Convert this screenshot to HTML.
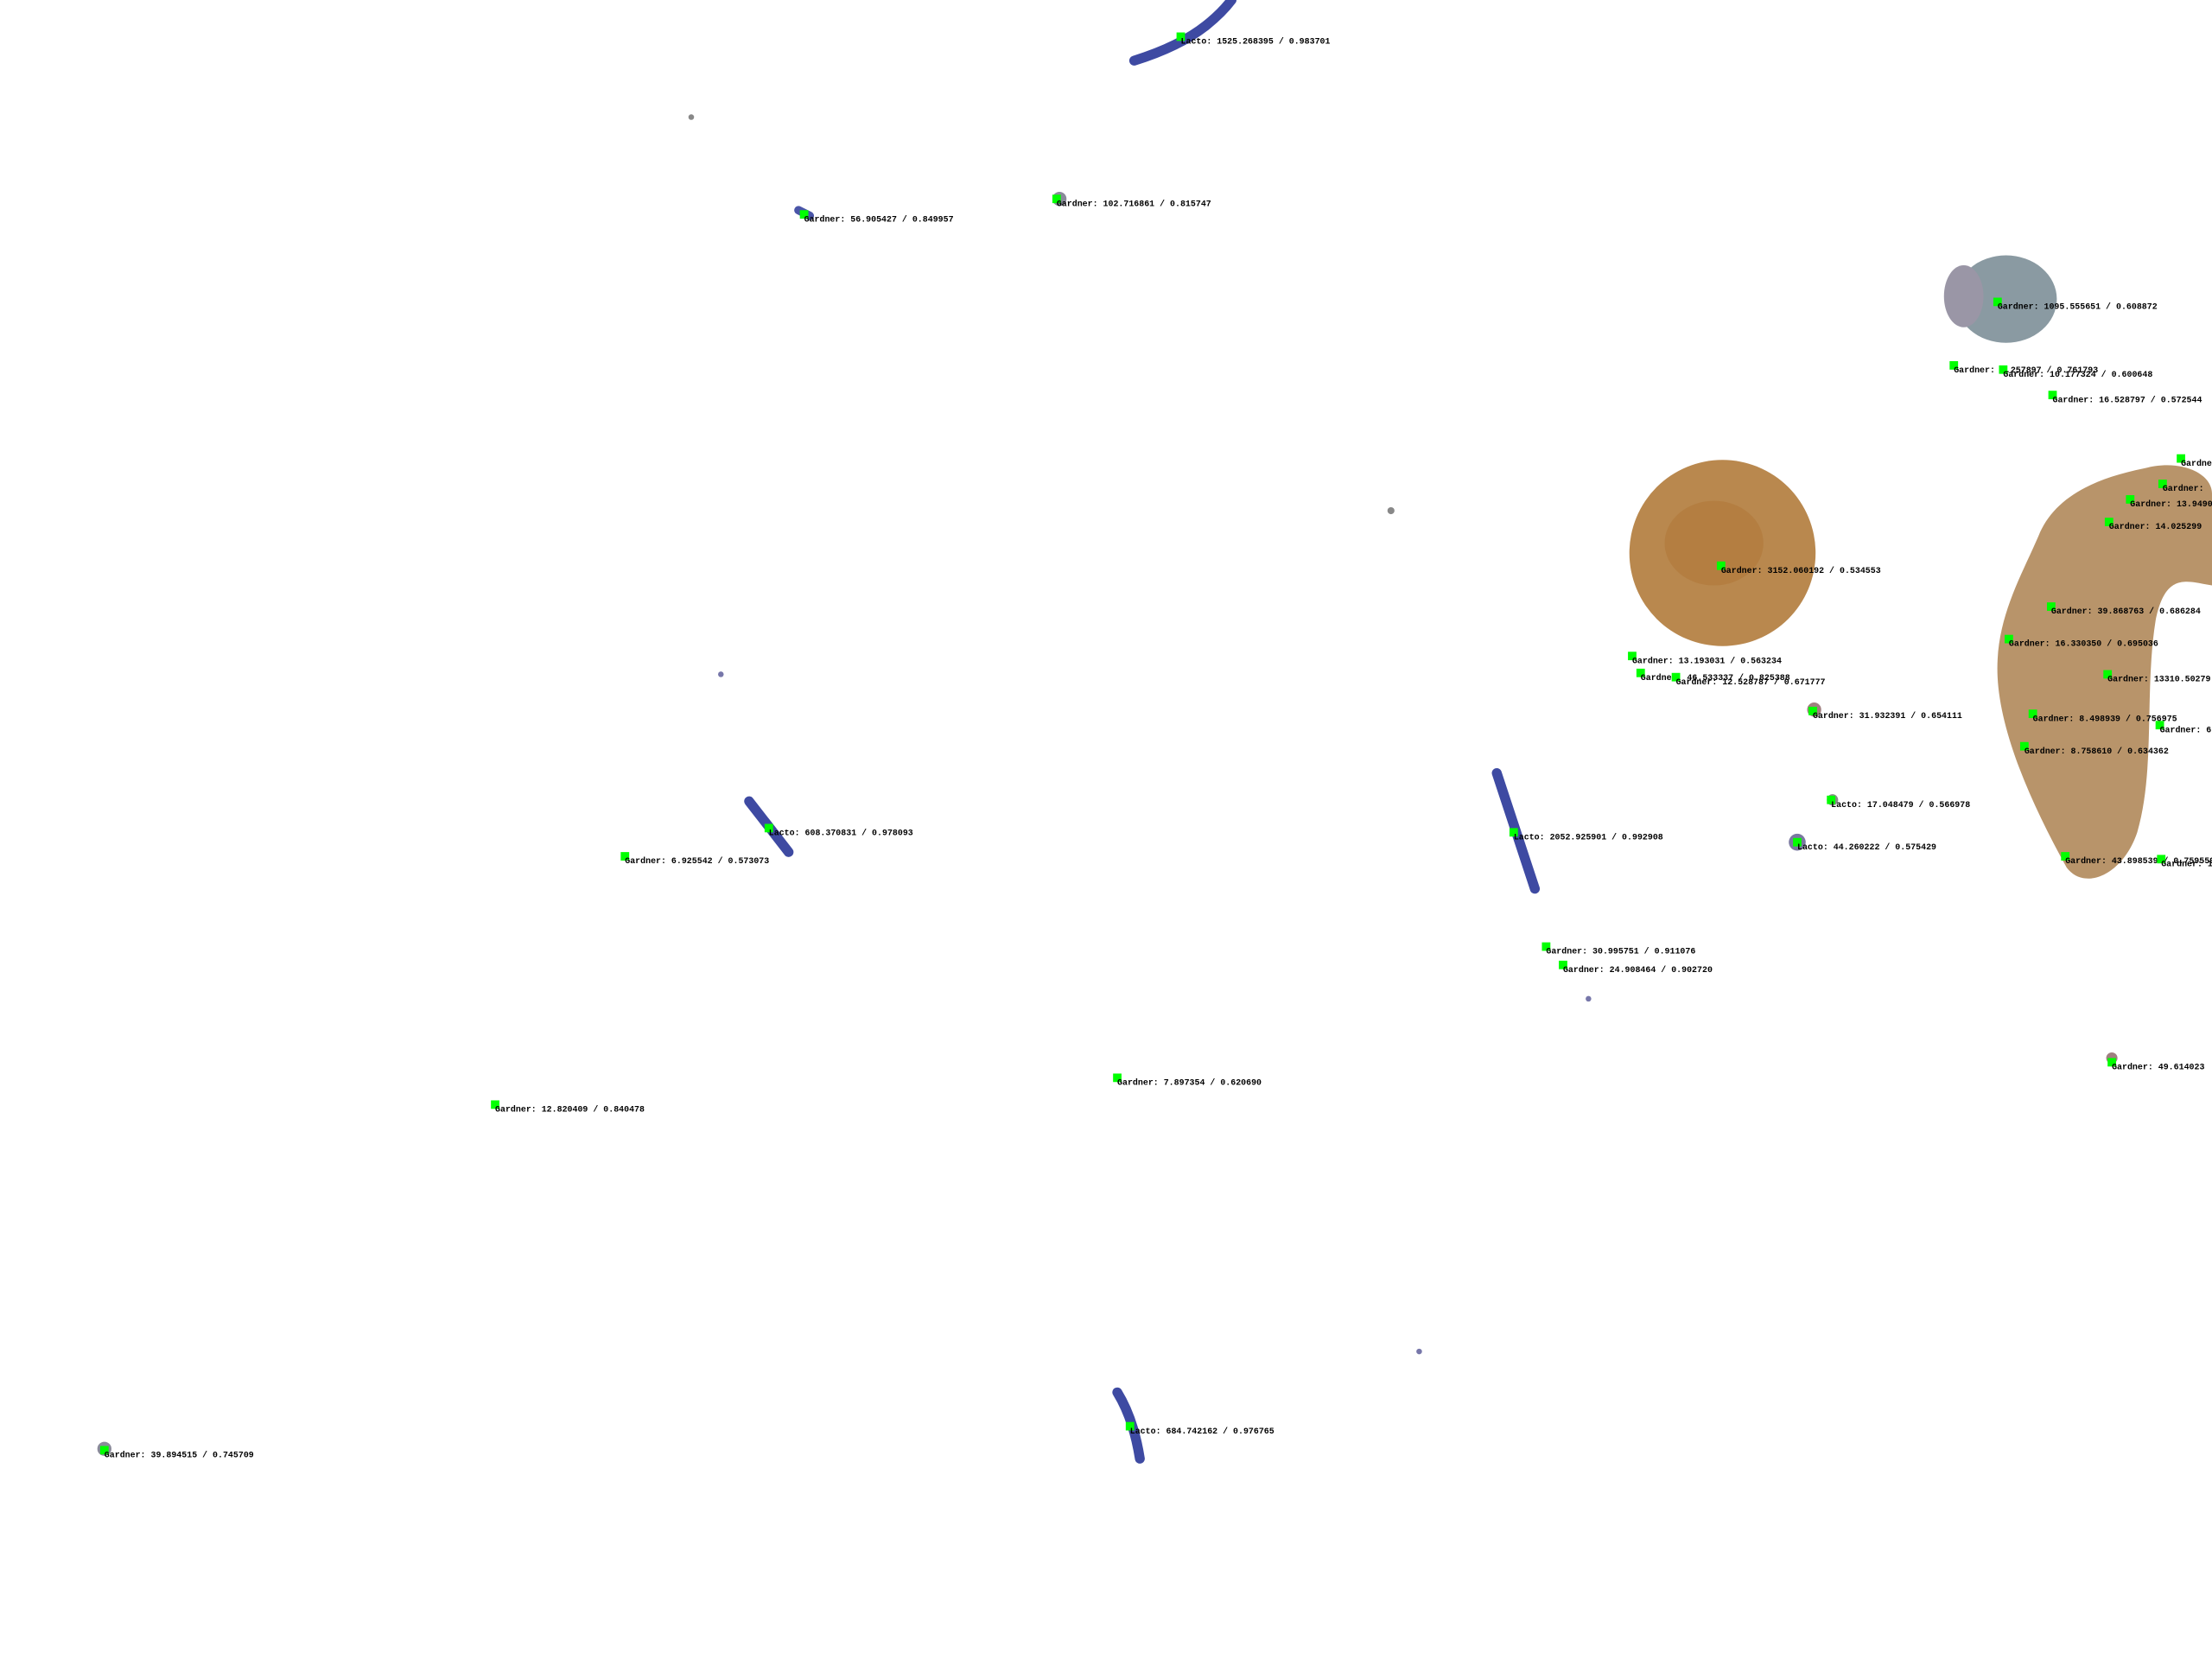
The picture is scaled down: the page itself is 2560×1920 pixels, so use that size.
<!DOCTYPE html>
<html><head><meta charset="utf-8"><style>
html,body{margin:0;padding:0;background:#fff;width:2560px;height:1920px;overflow:hidden}
svg{display:block}
text{font-family:"Liberation Mono",monospace;font-weight:bold;font-size:6.1px;fill:#000}
</style></head><body>
<svg id="plot" width="2560" height="1920" viewBox="0 0 1568 1176" xmlns="http://www.w3.org/2000/svg">
<g id="cells">
  <path d="M804,43 C820,38 840,30 855,18 C865,10 870,4 873,0" stroke="#3e4aa2" stroke-width="7" fill="none" stroke-linecap="round"/>
  <path d="M531,568 L559,604" stroke="#3e4aa2" stroke-width="7" stroke-linecap="round"/>
  <path d="M1061,548 L1088,630" stroke="#3e4aa2" stroke-width="7" stroke-linecap="round"/>
  <path d="M792,987 C800,1000 805,1015 808,1034" stroke="#3e4aa2" stroke-width="7" fill="none" stroke-linecap="round"/>
  <path d="M566,149 L574,153" stroke="#4a55a8" stroke-width="6" stroke-linecap="round"/>
  <ellipse cx="1422" cy="212" rx="36" ry="31" fill="#8a9aa2"/>
  <ellipse cx="1392" cy="210" rx="14" ry="22" fill="#9a96a6"/>
  <circle cx="1221" cy="392" r="66" fill="#b9884e"/>
  <ellipse cx="1215" cy="385" rx="35" ry="30" fill="#b07838" opacity="0.6"/>
  <path d="M1445,380 C1455,355 1480,340 1520,332 C1545,325 1568,335 1568,350 L1568,415 C1550,412 1535,405 1528,440 C1520,490 1528,545 1515,590 C1505,620 1478,632 1465,615 C1440,570 1418,520 1416,480 C1414,440 1432,410 1445,380 Z" fill="#b8946a"/>
  <circle cx="751" cy="141" r="5" fill="#8a8a9a"/>
  <circle cx="1274" cy="597" r="6" fill="#7a78a0"/>
  <circle cx="1286" cy="503" r="5" fill="#a08080"/>
  <circle cx="1299" cy="567" r="4" fill="#8a8a8a"/>
  <circle cx="490" cy="83" r="2" fill="#888"/>
  <circle cx="986" cy="362" r="2.5" fill="#888"/>
  <circle cx="511" cy="478" r="2" fill="#7777aa"/>
  <circle cx="1126" cy="708" r="2" fill="#7777aa"/>
  <circle cx="1006" cy="958" r="2" fill="#7777aa"/>
  <circle cx="74" cy="1027" r="5" fill="#8a8a9a"/>
  <circle cx="1497" cy="750" r="4" fill="#a08080"/>
</g>
<g id="marks"></g>
</svg>
<script>
const classes = ["Lacto","Gardner","Gardner","Gardner","Gardner","Gardner","Gardner","Gardner","Gardner","Gardner","Gardner","Gardner","Gardner","Gardner","Gardner","Gardner","Gardner","Gardner","Gardner","Gardner","Gardner","Lacto","Lacto","Gardner","Gardner","Lacto","Gardner","Lacto","Gardner","Gardner","Gardner","Gardner","Gardner","Gardner","Lacto","Gardner"];
const sizes = ["1525.268395","56.905427","102.716861","1095.555651","9.257897","10.177324","16.528797","","13.9490","14.025299","3152.060192","39.868763","16.330350","13.193031","46.533337","12.528787","13310.50279","31.932391","8.498939","6","8.758610","17.048479","44.260222","43.898539","10.91400","608.370831","6.925542","2052.925901","30.995751","24.908464","7.897354","12.820409","49.614023","39.894515","684.742162",""];
const scores = ["0.983701","0.849957","0.815747","0.608872","0.761793","0.600648","0.572544","","","","0.534553","0.686284","0.695036","0.563234","0.825388","0.671777","","0.654111","0.756975","","0.634362","0.566978","0.575429","0.759559","","0.978093","0.573073","0.992908","0.911076","0.902720","0.620690","0.840478","","0.745709","0.976765",""];
const posX = [837,570,749,1416,1385,1420,1455,1546,1510,1495,1220,1454,1424,1157,1163,1188,1494,1285,1441,1531,1435,1298,1274,1464,1532,545,443,1073,1096,1108,792,351,1497,74,801,1533];
const posY = [26,152,141,214,259,262,280,325,354,370,401,430,453,465,477,480,478,504,506,514,529,567,597,607,609,587,607,590,671,684,764,783,753,1028,1011,343];
const NS="http://www.w3.org/2000/svg";
const g=document.getElementById('marks');
for(let i=0;i<classes.length;i++){
  const r=document.createElementNS(NS,'rect');
  r.setAttribute('x',posX[i]-3);r.setAttribute('y',posY[i]-3);
  r.setAttribute('width',6);r.setAttribute('height',6);r.setAttribute('fill','#00ff00');
  
  
  g.appendChild(r);
  const t=document.createElementNS(NS,'text');
  t.setAttribute('x',posX[i]);t.setAttribute('y',posY[i]+5);
  let s=classes[i]+":";
  if(sizes[i]) s+=" "+sizes[i];
  if(scores[i]) s+=" / "+scores[i];
  t.textContent=s;
  t.setAttribute('xml:space','preserve');
  
  
  g.appendChild(t);
}
</script>
</body></html>
